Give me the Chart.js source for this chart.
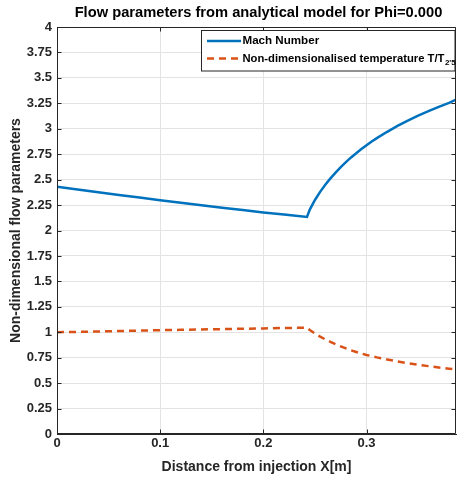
<!DOCTYPE html>
<html>
<head>
<meta charset="utf-8">
<script src="https://cdn.jsdelivr.net/npm/chart.js@4/dist/chart.umd.min.js"></script>
<style>
  html, body { margin: 0; padding: 0; background: #ffffff; }
  #wrap { width: 457px; height: 480px; position: relative; }
</style>
</head>
<body>
<div id="wrap"><canvas id="c"></canvas></div>
<script>
// Mach number along the duct
const machX = [0.000, 0.020, 0.040, 0.060, 0.080, 0.100, 0.120, 0.140, 0.160, 0.180, 0.200, 0.220, 0.2423,
               0.245, 0.250, 0.255, 0.260, 0.265, 0.270, 0.275, 0.280, 0.285, 0.290, 0.295, 0.300,
               0.305, 0.310, 0.320, 0.330, 0.340, 0.350, 0.360, 0.370, 0.380, 0.3867];
const machNumber = [2.430, 2.403, 2.376, 2.350, 2.324, 2.298, 2.273, 2.248, 2.224, 2.201, 2.178, 2.157, 2.133,
                    2.205, 2.300, 2.380, 2.450, 2.512, 2.568, 2.622, 2.672, 2.718, 2.760, 2.800, 2.838,
                    2.874, 2.908, 2.970, 3.028, 3.080, 3.128, 3.173, 3.215, 3.255, 3.285];

// Static temperature normalised by T_2'5
const tempX = [0.000, 0.040, 0.080, 0.120, 0.160, 0.200, 0.2423,
               0.245, 0.250, 0.255, 0.260, 0.265, 0.270, 0.275, 0.280, 0.285, 0.290, 0.295, 0.300,
               0.305, 0.310, 0.320, 0.330, 0.340, 0.350, 0.360, 0.370, 0.380, 0.3867];
const tempRatio = [1.000, 1.008, 1.016, 1.024, 1.031, 1.038, 1.045,
                   1.022, 0.988, 0.957, 0.930, 0.905, 0.882, 0.861, 0.841, 0.822, 0.806, 0.791, 0.777,
                   0.765, 0.753, 0.732, 0.713, 0.696, 0.681, 0.667, 0.654, 0.642, 0.634];

const xTicks = [0, 0.1, 0.2, 0.3];
const xTickLabels = ['0', '0.1', '0.2', '0.3'];
const yTicks = [0, 0.25, 0.5, 0.75, 1, 1.25, 1.5, 1.75, 2, 2.25, 2.5, 2.75, 3, 3.25, 3.5, 3.75, 4];
const yTickLabels = ['0', '0.25', '0.5', '0.75', '1', '1.25', '1.5', '1.75', '2', '2.25', '2.5', '2.75', '3', '3.25', '3.5', '3.75', '4'];

const seriesNames = ['Mach Number', 'Non-dimensionalised temperature T/T'];
const tempSubscript = "2'5";
const chartTitle = 'Flow parameters from analytical model for Phi=0.000';
const xTitle = 'Distance from injection X[m]';
const yTitle = 'Non-dimensional flow parameters';

const FONT = '"Liberation Sans", Arial, Helvetica, sans-serif';
const AXIS_COLOR = '#262626';
const MACH_COLOR = '#0072BD';
const TEMP_COLOR = '#D95319';
const TEMP_DASH = [7, 5];

// Axes box, inward tick marks, title and in-plot legend
const framePlugin = {
  id: 'frame',
  afterDatasetsDraw(chart) {
    const ctx = chart.ctx;
    const a = chart.chartArea;
    const xs = chart.scales.x, ys = chart.scales.y;
    const L = Math.round(a.left) + 0.5, R = Math.round(a.right) - 0.5;
    const T = Math.round(a.top) + 0.5, B = Math.round(a.bottom) - 0.5;
    ctx.save();
    ctx.strokeStyle = AXIS_COLOR;
    ctx.lineWidth = 1;
    ctx.beginPath();
    ctx.moveTo(L, T); ctx.lineTo(R, T); ctx.lineTo(R, B); ctx.lineTo(L, B); ctx.closePath();
    ctx.stroke();
    const tl = 4;
    ctx.beginPath();
    yTicks.forEach(v => {
      const y = Math.round(ys.getPixelForValue(v)) + 0.5;
      ctx.moveTo(L, y); ctx.lineTo(L + tl, y);
      ctx.moveTo(R, y); ctx.lineTo(R - tl, y);
    });
    xTicks.forEach(v => {
      const x = Math.round(xs.getPixelForValue(v)) + 0.5;
      ctx.moveTo(x, B); ctx.lineTo(x, B - tl);
      ctx.moveTo(x, T); ctx.lineTo(x, T + tl);
    });
    ctx.stroke();
    ctx.restore();
  },
  afterDraw(chart) {
    const ctx = chart.ctx;
    const a = chart.chartArea;
    ctx.save();
    // title
    ctx.fillStyle = '#000000';
    ctx.font = 'bold 14.7px ' + FONT;
    ctx.textAlign = 'center';
    ctx.textBaseline = 'middle';
    ctx.fillText(chartTitle, (a.left + a.right) / 2 + 2, 13);

    // legend
    const bx = 201.5, by = 30.5, bw = 253.5, bh = 40.5;
    ctx.fillStyle = '#ffffff';
    ctx.fillRect(bx, by, bw, bh);
    ctx.strokeStyle = AXIS_COLOR;
    ctx.lineWidth = 1;
    ctx.strokeRect(bx, by, bw, bh);

    const rows = [41, 58.5];
    const x0 = 207, x1 = 241;
    ctx.lineWidth = 2.5;
    ctx.strokeStyle = MACH_COLOR;
    ctx.setLineDash([]);
    ctx.beginPath(); ctx.moveTo(x0, rows[0]); ctx.lineTo(x1, rows[0]); ctx.stroke();
    ctx.strokeStyle = TEMP_COLOR;
    ctx.setLineDash(TEMP_DASH);
    ctx.beginPath(); ctx.moveTo(x0, rows[1]); ctx.lineTo(x1, rows[1]); ctx.stroke();
    ctx.setLineDash([]);

    ctx.fillStyle = '#000000';
    ctx.textAlign = 'left';
    ctx.textBaseline = 'middle';
    ctx.font = 'bold 11.6px ' + FONT;
    ctx.fillText(seriesNames[0], 242.5, rows[0]);
    // second entry sized so the text and its subscript sit inside the box
    ctx.font = 'bold 12px ' + FONT;
    const w12 = ctx.measureText(seriesNames[1]).width;
    const size = Math.min(11.6, 12 * 202 / w12);
    ctx.font = 'bold ' + size.toFixed(2) + 'px ' + FONT;
    ctx.fillText(seriesNames[1], 242.5, rows[1]);
    const w = ctx.measureText(seriesNames[1]).width;
    ctx.font = 'bold 8px ' + FONT;
    ctx.fillText(tempSubscript, 242.5 + w + 0.5, rows[1] + 4.5);
    ctx.restore();
  }
};

new Chart(document.getElementById('c'), {
  type: 'line',
  data: {
    datasets: [
      {
        label: seriesNames[0],
        data: machX.map((x, i) => ({ x: x, y: machNumber[i] })),
        borderColor: MACH_COLOR,
        borderWidth: 2.5,
        pointRadius: 0,
        tension: 0,
        fill: false
      },
      {
        label: seriesNames[1] + tempSubscript,
        data: tempX.map((x, i) => ({ x: x, y: tempRatio[i] })),
        borderColor: TEMP_COLOR,
        borderWidth: 2.5,
        borderDash: TEMP_DASH,
        pointRadius: 0,
        tension: 0,
        fill: false
      }
    ]
  },
  options: {
    responsive: true,
    maintainAspectRatio: false,
    animation: false,
    layout: { padding: { top: 27, right: 1, left: 0, bottom: 0 } },
    plugins: {
      legend: { display: false },
      title: { display: false },
      tooltip: { enabled: false }
    },
    scales: {
      x: {
        type: 'linear',
        min: 0,
        max: 0.3867,
        afterBuildTicks: s => { s.ticks = xTicks.map(v => ({ value: v })); },
        afterFit: s => { s.height = 46; },
        ticks: {
          autoSkip: false,
          maxRotation: 0,
          padding: 2,
          color: AXIS_COLOR,
          font: { family: FONT, size: 13, weight: 'bold' },
          callback: v => xTickLabels[xTicks.indexOf(v)]
        },
        grid: { color: '#e3e3e3', lineWidth: 1, drawTicks: false },
        border: { color: AXIS_COLOR, width: 1 },
        title: {
          display: true,
          text: xTitle,
          color: AXIS_COLOR,
          font: { family: FONT, size: 14, weight: 'bold' },
          padding: { top: 0, bottom: 4 }
        }
      },
      y: {
        type: 'linear',
        min: 0,
        max: 4,
        afterBuildTicks: s => { s.ticks = yTicks.map(v => ({ value: v })); },
        afterFit: s => { s.width = 57; },
        ticks: {
          autoSkip: false,
          padding: 5,
          color: AXIS_COLOR,
          font: { family: FONT, size: 13, weight: 'bold' },
          callback: v => yTickLabels[yTicks.indexOf(v)]
        },
        grid: { color: '#e3e3e3', lineWidth: 1, drawTicks: false },
        border: { color: AXIS_COLOR, width: 1 },
        title: {
          display: true,
          text: yTitle,
          color: AXIS_COLOR,
          font: { family: FONT, size: 14, weight: 'bold' },
          padding: { top: 8, bottom: 0 }
        }
      }
    }
  },
  plugins: [framePlugin]
});
</script>
</body>
</html>
